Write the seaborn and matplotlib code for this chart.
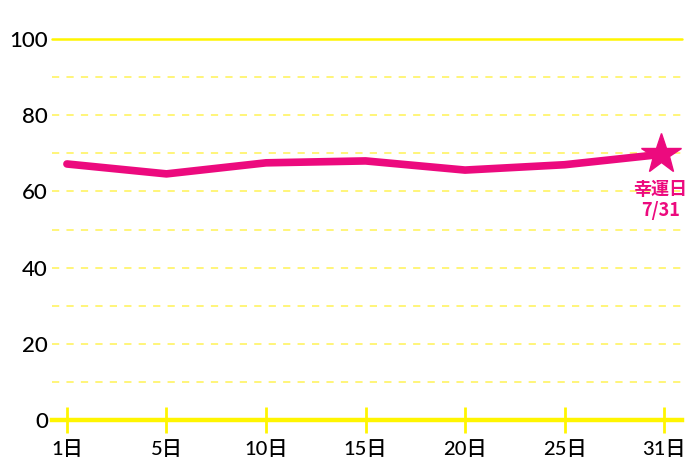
import numpy as np
import pandas as pd
import matplotlib
matplotlib.use("Agg")
import matplotlib.pyplot as plt
import seaborn as sns

# data
days = ["1日", "5日", "10日", "15日", "20日", "25日", "31日"]
scores = [67.2, 64.6, 67.5, 68.0, 65.6, 67.0, 69.8]
lucky_label = "幸運日\n7/31"

PINK = "#EC0A7E"
YELLOW = "#FFF500"
GRID_YELLOW = "#FFF56E"

sns.set_style("white")
plt.rcParams["font.family"] = ["Lato", "Noto Sans CJK JP", "DejaVu Sans"]
plt.rcParams["text.color"] = "black"
plt.rcParams["xtick.labelcolor"] = "black"
plt.rcParams["ytick.labelcolor"] = "black"

df = pd.DataFrame({"pos": np.arange(len(days)), "score": scores})

fig = plt.figure(figsize=(7, 4.67), dpi=100)
ax = fig.add_axes([0.0743, 0.1006, 0.9, 0.8159])

# grid
for v in range(10, 100, 10):
    ax.axhline(v, color=GRID_YELLOW, lw=1.3, ls=(0, (4, 4)), zorder=1)
ax.axhline(100, color=YELLOW, lw=1.8, zorder=1, clip_on=False)

sns.lineplot(data=df, x="pos", y="score", ax=ax, color=PINK, lw=5.5,
             solid_capstyle="round", zorder=3)
ax.plot(df["pos"].iloc[-1] - 0.03, df["score"].iloc[-1], marker="*", ms=30,
        color=PINK, mec=PINK, zorder=4)
ax.text(df["pos"].iloc[-1] - 0.04, df["score"].iloc[-1] - 12, lucky_label,
        color=PINK, fontsize=13, fontweight="bold", ha="center", va="center",
        linespacing=1.1, zorder=4, family=["Noto Sans CJK JP", "DejaVu Sans"])

ax.set_xlim(-0.15, 6.18)
ax.set_ylim(0, 100)
ax.set_xticks(df["pos"])
ax.set_xticklabels(days)
ax.set_yticks(range(0, 101, 20))
ax.set_xlabel("")
ax.set_ylabel("")

for s in ["top", "right", "left"]:
    ax.spines[s].set_visible(False)
ax.spines["bottom"].set_color(YELLOW)
ax.spines["bottom"].set_linewidth(3.2)
ax.spines["bottom"].set_zorder(2)

ax.tick_params(axis="x", bottom=True, direction="inout", length=19, width=2,
               color=YELLOW, labelsize=14.5, pad=5)
ax.tick_params(axis="y", left=False, length=0, labelsize=16, pad=3)
for lab in ax.get_xticklabels() + ax.get_yticklabels():
    lab.set_fontweight("medium")

fig.savefig("out.png", dpi=100, facecolor="white")
